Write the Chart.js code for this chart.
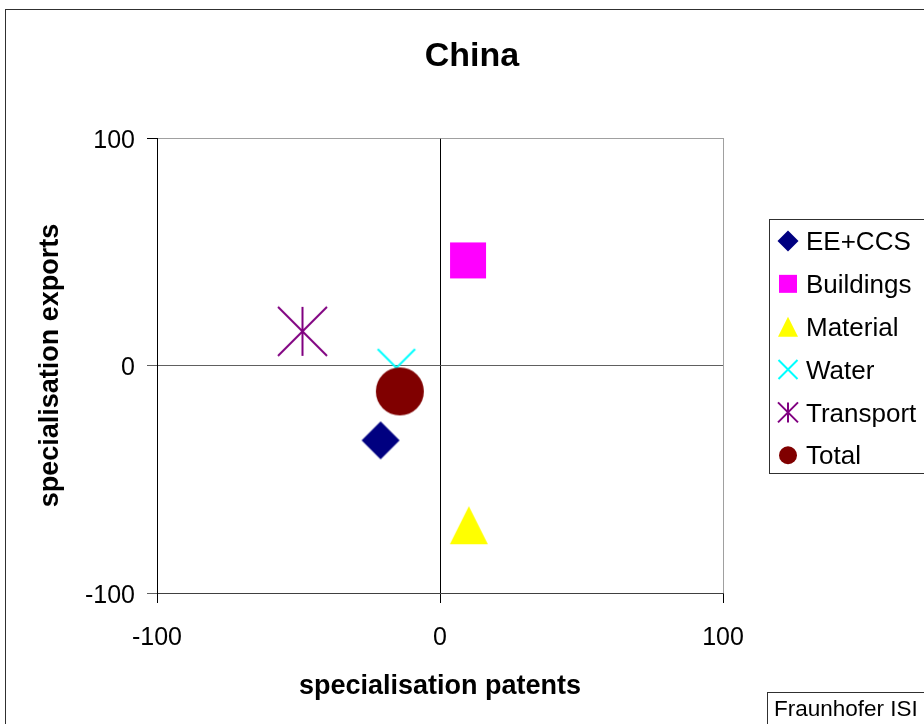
<!DOCTYPE html>
<html>
<head>
<meta charset="utf-8">
<title>China</title>
<script src="https://cdn.jsdelivr.net/npm/chart.js@4/dist/chart.umd.min.js"></script>
<style>
  html, body { margin: 0; padding: 0; background: #ffffff; }
  #wrap { width: 924px; height: 724px; }
</style>
</head>
<body>
<div id="wrap"><canvas id="c" width="924" height="724"></canvas></div>
<script>
// Specialisation indices per technology field
const seriesNames   = ['EE+CCS', 'Buildings', 'Material', 'Water', 'Transport', 'Total'];
const patentsSpec   = [-21.0, 9.9, 10.2, -15.4, -48.6, -14.2];
const exportsSpec   = [-32.9, 46.2, -70.2, -1.0, 15.0, -11.4];
const seriesColors  = ['#000080', '#FF00FF', '#FFFF00', '#00FFFF', '#800080', '#800000'];
const markerKinds   = ['diamond', 'square', 'triangle', 'x', 'asterisk', 'circle'];
const axisTicks     = [-100, 0, 100];

const FONT = '"Liberation Sans", Arial, Helvetica, sans-serif';

// Half-extent of each marker on the plot and in the legend
const plotHalf   = { diamond: 19, square: 18, triangle: 19, x: 18.7, asterisk: 24.5, circle: 24 };
const legendHalf = { diamond: 10.5, square: 9, triangle: 10, x: 9.5, asterisk: 10, circle: 9 };

function drawMarker(ctx, kind, cx, cy, h, color) {
  ctx.save();
  ctx.fillStyle = color;
  ctx.strokeStyle = color;
  ctx.lineWidth = 2;
  ctx.beginPath();
  switch (kind) {
    case 'diamond':
      ctx.moveTo(cx, cy - h); ctx.lineTo(cx + h, cy); ctx.lineTo(cx, cy + h); ctx.lineTo(cx - h, cy);
      ctx.closePath(); ctx.fill(); break;
    case 'square':
      ctx.rect(cx - h, cy - h, 2 * h, 2 * h); ctx.fill(); break;
    case 'triangle':
      ctx.moveTo(cx, cy - h); ctx.lineTo(cx + h, cy + h); ctx.lineTo(cx - h, cy + h);
      ctx.closePath(); ctx.fill(); break;
    case 'x':
      ctx.moveTo(cx - h, cy - h); ctx.lineTo(cx + h, cy + h);
      ctx.moveTo(cx + h, cy - h); ctx.lineTo(cx - h, cy + h);
      ctx.stroke(); break;
    case 'asterisk':
      ctx.moveTo(cx, cy - h); ctx.lineTo(cx, cy + h);
      ctx.moveTo(cx - h, cy - h); ctx.lineTo(cx + h, cy + h);
      ctx.moveTo(cx + h, cy - h); ctx.lineTo(cx - h, cy + h);
      ctx.stroke(); break;
    case 'circle':
      ctx.arc(cx, cy, h, 0, Math.PI * 2); ctx.fill(); break;
  }
  ctx.restore();
}

function markerCanvas(kind, h, color) {
  const size = Math.ceil(2 * h + 4);
  const cv = document.createElement('canvas');
  cv.width = size; cv.height = size;
  drawMarker(cv.getContext('2d'), kind, size / 2, size / 2, h, color);
  return cv;
}

// later series are painted over earlier ones
const datasets = seriesNames.map((name, i) => ({
  label: name,
  data: [{ x: patentsSpec[i], y: exportsSpec[i] }],
  pointStyle: markerCanvas(markerKinds[i], plotHalf[markerKinds[i]], seriesColors[i]),
  pointRadius: plotHalf[markerKinds[i]],
  backgroundColor: seriesColors[i],
  borderColor: seriesColors[i],
  showLine: false,
  order: seriesNames.length - i
}));

// Frame, title, legend box and source note
const decorations = {
  id: 'decorations',
  beforeDraw(chart) {
    const ctx = chart.ctx;
    ctx.save();
    ctx.fillStyle = '#ffffff';
    ctx.fillRect(0, 0, chart.width, chart.height);
    ctx.strokeStyle = '#303030';
    ctx.lineWidth = 1;
    ctx.strokeRect(5.5, 9.5, chart.width + 20, chart.height + 20);
    ctx.restore();
  },
  afterDraw(chart) {
    const ctx = chart.ctx;
    ctx.save();
    // title
    ctx.fillStyle = '#000000';
    ctx.font = 'bold 34px ' + FONT;
    ctx.textAlign = 'center';
    ctx.textBaseline = 'middle';
    ctx.fillText('China', 472, 57);

    // legend
    ctx.strokeStyle = '#303030';
    ctx.lineWidth = 1;
    ctx.strokeRect(769.5, 219.5, 200, 254);
    ctx.font = '26px ' + FONT;
    ctx.textAlign = 'left';
    ctx.textBaseline = 'middle';
    const top = 241, step = 42.85;
    chart.data.datasets.forEach((ds, i) => {
      const y = top + i * step;
      drawMarker(ctx, markerKinds[i], 788, y, legendHalf[markerKinds[i]], seriesColors[i]);
      ctx.fillStyle = '#000000';
      ctx.fillText(ds.label, 806, y + 2);
    });

    // source note
    ctx.strokeRect(767.5, 692.5, 200, 50);
    ctx.font = '22.5px ' + FONT;
    ctx.fillText('Fraunhofer ISI', 774, 710);
    ctx.restore();
  }
};

const tickFont = { family: FONT, size: 25 };
const titleFont = { family: FONT, size: 27, weight: 'bold' };

new Chart(document.getElementById('c'), {
  type: 'scatter',
  data: { datasets },
  plugins: [decorations],
  options: {
    responsive: false,
    animation: false,
    events: [],
    layout: { padding: { left: 10, top: 138, right: 201, bottom: 8 } },
    plugins: {
      legend: { display: false },
      title: { display: false },
      tooltip: { enabled: false }
    },
    scales: {
      x: {
        type: 'linear',
        min: -100, max: 100,
        afterBuildTicks: (axis) => { axis.ticks = axisTicks.map(v => ({ value: v })); },
        afterFit: (axis) => { axis.height = 123; },
        ticks: { font: tickFont, color: '#000000', padding: 20, maxRotation: 0, autoSkip: false },
        grid: {
          color: (c) => (c.tick && c.tick.value === 100) ? '#a0a0a0' : '#000000',
          tickColor: '#000000',
          tickLength: 10,
          lineWidth: 1
        },
        border: { color: '#404040', width: 1 },
        title: { display: true, text: 'specialisation patents', font: titleFont, color: '#000000',
                 padding: { top: 0, bottom: 13 } }
      },
      y: {
        type: 'linear',
        min: -100, max: 100,
        afterBuildTicks: (axis) => { axis.ticks = axisTicks.map(v => ({ value: v })); },
        afterFit: (axis) => { axis.width = 147; },
        ticks: { font: tickFont, color: '#000000', padding: 12, labelOffset: 3, autoSkip: false },
        grid: {
          color: (c) => {
            const v = c.tick ? c.tick.value : null;
            if (v === 100) return '#a0a0a0';
            if (v === 0) return '#606060';
            return '#404040';
          },
          tickColor: (c) => (c.tick && c.tick.value === 100) ? '#000000' : '#606060',
          tickLength: 10,
          lineWidth: 1
        },
        border: { color: '#000000', width: 1 },
        title: { display: true, text: 'specialisation exports', font: titleFont, color: '#000000',
                 padding: { top: 24, bottom: 0 } }
      }
    }
  }
});
</script>
</body>
</html>
